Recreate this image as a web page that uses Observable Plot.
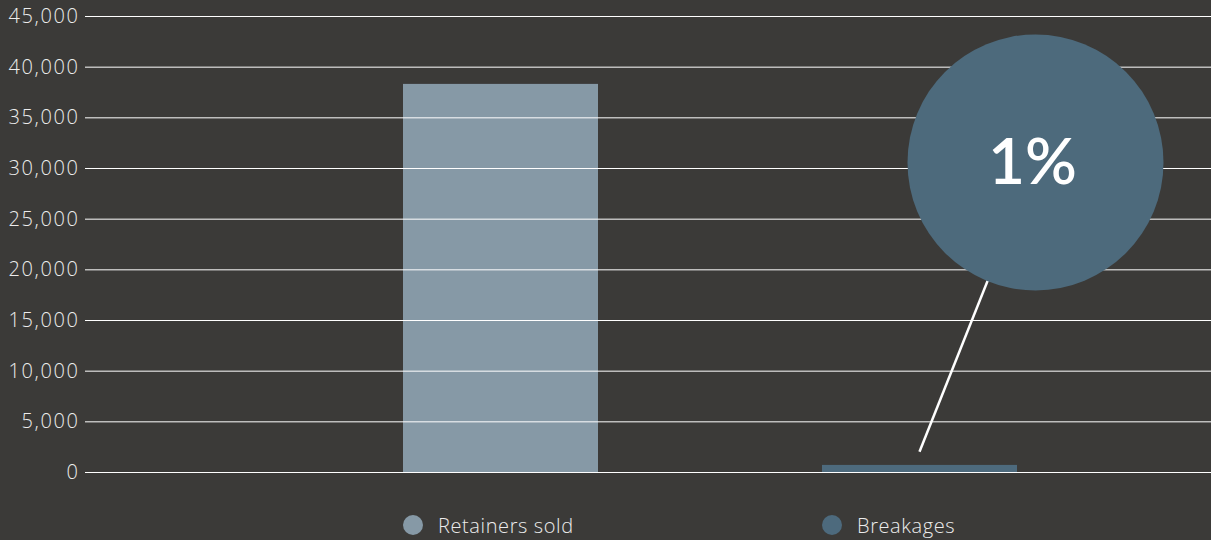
<!DOCTYPE html>
<html>
<head>
<meta charset="utf-8">
<script src="https://cdn.jsdelivr.net/npm/d3@7"></script>
<script src="https://cdn.jsdelivr.net/npm/@observablehq/plot@0.6"></script>
<style>
  html, body { margin: 0; padding: 0; background: #3b3a38; }
  #wrap { position: relative; width: 1211px; height: 540px; overflow: hidden; }
  #legend { position: absolute; top: 510px; left: 0; width: 1211px; height: 30px; }
  .item { position: absolute; top: 0; display: flex; align-items: center; height: 30px;
          font-family: "Open Sans", sans-serif; font-weight: 300; font-size: 20px; letter-spacing: 0.6px; color: #ececec; }
  .sw { width: 20px; height: 20px; border-radius: 50%; margin-right: 15px; }
  svg text.ylab { letter-spacing: 1.6px; }
</style>
</head>
<body>
<div id="wrap"><div id="chart"></div><div id="legend"></div></div>
<script>
const categories = ["Retainers sold", "Breakages"];
const values = [38300, 700];
const barColors = ["#8699a6", "#4d6a7d"];
const yTicks = [0, 5000, 10000, 15000, 20000, 25000, 30000, 35000, 40000, 45000];
const callout = {label: "1%", category: "Breakages", from: 2000, center: 30600};

const data = categories.map((c, i) => ({category: c, value: values[i]}));

const CIRCLE_R = 128, CIRCLE_DX = 115.5;

const chart = Plot.plot({
  width: 1211,
  height: 490,
  marginTop: 16,
  marginBottom: 18,
  marginLeft: 85,
  marginRight: 0,
  style: {background: "transparent", color: "#ececec", fontFamily: "'Open Sans', sans-serif", fontSize: "20px"},
  x: {domain: categories, paddingInner: 0.535, paddingOuter: 0.611, align: 0.621, axis: null},
  y: {domain: [0, 45000], axis: null},
  color: {domain: categories, range: barColors},
  marks: [
    Plot.barY(data, {x: "category", y: "value", fill: "category"}),
    Plot.ruleY(yTicks, {stroke: "#ffffff", strokeWidth: 1}),
    Plot.axisY(yTicks, {tickFormat: d3.format(","), tickSize: 0, tickPadding: 6, fontSize: 20, fontWeight: 300, fill: "#ececec", label: null, className: "ylab"}),
    (index, scales) => {
      const x0 = scales.x(callout.category) + scales.x.bandwidth() / 2;
      const g = d3.create("svg:g");
      g.append("line")
        .attr("x1", x0).attr("y1", scales.y(callout.from))
        .attr("x2", x0 + CIRCLE_DX).attr("y2", scales.y(callout.center))
        .attr("stroke", "#ffffff").attr("stroke-width", 2.5);
      return g.node();
    },
    Plot.dot([callout], {x: "category", y: "center", r: CIRCLE_R, dx: CIRCLE_DX, fill: "#4d6a7c", stroke: "none"}),
    Plot.text([callout], {x: "category", y: "center", text: "label", dx: CIRCLE_DX - 3, dy: 1, fill: "#ffffff", fontSize: 64, fontWeight: 600, fontFamily: "Lato, sans-serif"})
  ]
});
document.getElementById("chart").appendChild(chart);
chart.querySelectorAll("g[aria-label='y-axis tick label'] text").forEach(t => t.setAttribute("letter-spacing", "1.6"));

const xs = chart.scale("x");
const legend = document.getElementById("legend");
categories.forEach((c, i) => {
  const it = document.createElement("div");
  it.className = "item";
  it.style.left = xs.apply(c) + "px";
  const sw = document.createElement("div");
  sw.className = "sw";
  sw.style.background = barColors[i];
  const tx = document.createElement("span");
  tx.textContent = c;
  it.appendChild(sw); it.appendChild(tx);
  legend.appendChild(it);
});
</script>
</body>
</html>
